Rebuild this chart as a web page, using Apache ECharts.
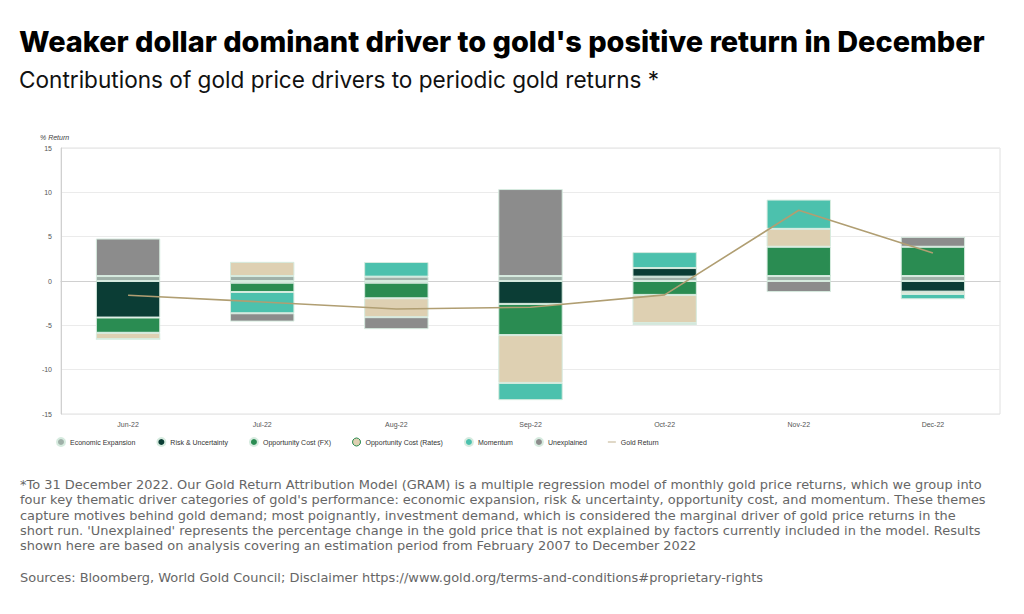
<!DOCTYPE html>
<html>
<head>
<meta charset="utf-8">
<script src="https://cdn.jsdelivr.net/npm/echarts@6/dist/echarts.min.js"></script>
<style>
html,body{margin:0;padding:0;background:#fff;}
#chart{width:1024px;height:614px;}
</style>
</head>
<body>
<div id="chart"></div>
<script>
var categories = ['Jun-22','Jul-22','Aug-22','Sep-22','Oct-22','Nov-22','Dec-22'];
var economicExpansion = [0.56, 0.56, 0.49, 0.56, 0.49, 0.56, 0.56];
var riskUncertainty   = [-4.12, -0.19, -0.19, -2.58, 0.97, 0, -1.2];
var oppCostFX         = [-1.72, -1.05, -1.76, -3.52, -1.57, 3.3, 3.3];
var oppCostRates      = [-0.71, 1.6, -2.13, -5.39, -3.18, 2.02, -0.26];
var momentum          = [0, -2.4, 1.65, -1.95, 1.8, 3.3, -0.6];
var unexplained       = [4.23, -0.94, -1.35, 9.81, -0.22, -1.25, 1.12];
var goldReturn        = [-1.6, -2.36, -3.15, -2.96, -1.57, 7.98, 3.15];
var yTicks = [-15, -10, -5, 0, 5, 10, 15];

var footnote = [
"*To 31 December 2022. Our Gold Return Attribution Model (GRAM) is a multiple regression model of monthly gold price returns, which we group into",
"four key thematic driver categories of gold's performance: economic expansion, risk & uncertainty, opportunity cost, and momentum. These themes",
"capture motives behind gold demand; most poignantly, investment demand, which is considered the marginal driver of gold price returns in the",
"short run. 'Unexplained' represents the percentage change in the gold price that is not explained by factors currently included in the model. Results",
"shown here are based on analysis covering an estimation period from February 2007 to December 2022"
];
var sources = "Sources: Bloomberg, World Gold Council; Disclaimer https://www.gold.org/terms-and-conditions#proprietary-rights";

var colors = {
  econ: '#9fb0a8', risk: '#0b3d35', fx: '#2a8c52', rates: '#ded0b2',
  mom: '#4cc1ad', unexp: '#8c8c8c', gold: '#b09e72'
};

function barSeries(name, data, color) {
  return {
    name: name, type: 'bar', stack: 'drivers', data: data,
    barWidth: '48%',
    itemStyle: { color: color, borderColor: '#d6ebdf', borderWidth: 1 },
    emphasis: { disabled: true }
  };
}

var chart = echarts.init(document.getElementById('chart'), null, {renderer: 'svg'});
chart.setOption({
  animation: false,
  backgroundColor: '#fff',
  title: {
    text: "Weaker dollar dominant driver to gold's positive return in December",
    subtext: 'Contributions of gold price drivers to periodic gold returns *',
    left: 14, top: 22, itemGap: 12,
    textStyle: { fontFamily: 'Inter', fontWeight: 800, fontSize: 28.9, color: '#000' },
    subtextStyle: { fontFamily: 'Inter', fontWeight: 400, fontSize: 22.6, color: '#111' }
  },
  legend: {
    left: 51, top: 432, itemWidth: 8, itemHeight: 8, itemGap: 21,
    textStyle: { fontFamily: 'Liberation Sans', fontSize: 7, color: '#333' },
    data: [
      { name: 'Economic Expansion', icon: 'circle' },
      { name: 'Risk & Uncertainty', icon: 'circle' },
      { name: 'Opportunity Cost (FX)', icon: 'circle' },
      { name: 'Opportunity Cost (Rates)', icon: 'circle', itemStyle: { borderColor: '#2a8c52', borderWidth: 1 } },
      { name: 'Momentum', icon: 'circle' },
      { name: 'Unexplained', icon: 'circle' },
      { name: 'Gold Return', icon: 'path://M0,4 L12,4 L12,5.2 L0,5.2 Z' }
    ]
  },
  grid: { left: 61, right: 24, top: 148, bottom: 200, show: true, borderColor: '#e0e0e0', borderWidth: 1 },
  xAxis: {
    type: 'category', data: categories,
    axisLine: { show: true, lineStyle: { color: '#d0d0d0' } },
    axisTick: { show: false },
    axisLabel: { fontFamily: 'Liberation Sans', fontSize: 7, color: '#555', margin: 7 }
  },
  yAxis: {
    type: 'value', min: yTicks[0], max: yTicks[yTicks.length-1], interval: 5,
    name: '% Return', nameLocation: 'end', nameGap: 7,
    nameTextStyle: { fontFamily: 'Liberation Sans', fontSize: 7, fontStyle: 'italic', color: '#444', align: 'left', padding: [0,0,0,-21] },
    axisLine: { show: true, lineStyle: { color: '#d0d0d0' } },
    axisTick: { show: false },
    splitLine: { lineStyle: { color: '#ebebeb' } },
    axisLabel: { fontFamily: 'Liberation Sans', fontSize: 7, color: '#555', margin: 9 }
  },
  series: [
    barSeries('Economic Expansion', economicExpansion, colors.econ),
    barSeries('Risk & Uncertainty', riskUncertainty, colors.risk),
    barSeries('Opportunity Cost (FX)', oppCostFX, colors.fx),
    barSeries('Opportunity Cost (Rates)', oppCostRates, colors.rates),
    barSeries('Momentum', momentum, colors.mom),
    barSeries('Unexplained', unexplained, colors.unexp),
    {
      name: 'Gold Return', type: 'line', data: goldReturn,
      symbol: 'none', z: 5,
      itemStyle: { color: colors.gold },
      lineStyle: { color: colors.gold, width: 1.6 },
      emphasis: { disabled: true }
    }
  ],
  graphic: [
    {
      type: 'text', left: 20, top: 477,
      style: {
        text: footnote.join('\n'),
        fontFamily: 'DejaVu Sans', fontSize: 12.95, lineHeight: 15.3, fill: '#666'
      }
    },
    {
      type: 'text', left: 20, top: 571,
      style: { text: sources, fontFamily: 'DejaVu Sans', fontSize: 12.95, fill: '#666' }
    }
  ]
});
</script>
</body>
</html>
